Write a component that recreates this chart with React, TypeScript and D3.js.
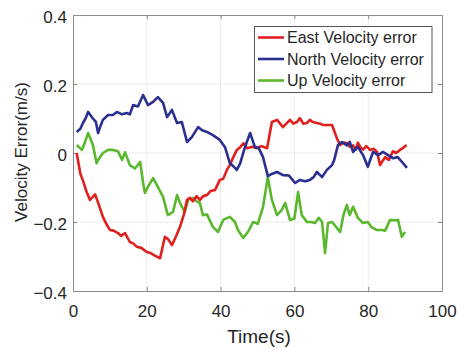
import * as d3 from "d3";
import { useEffect, useRef } from "react";

// [time (s), velocity error (m/s)]
const eastErr: [number, number][] = [
  [1, 0], [2, -0.06], [2.7, -0.08], [3.6, -0.11], [4.6, -0.136], [6, -0.12], [7, -0.15],
  [8.1, -0.185], [9, -0.205], [10, -0.223], [11, -0.225], [12.2, -0.232], [13, -0.24],
  [14.1, -0.232], [15.4, -0.258], [16.3, -0.262], [17.3, -0.272], [18.5, -0.275], [20, -0.287],
  [21, -0.29], [22.3, -0.298], [23.6, -0.305], [24.9, -0.243], [25.8, -0.25], [26.8, -0.267],
  [28, -0.24], [29, -0.214], [30, -0.18], [30.9, -0.136], [31.7, -0.13], [32.5, -0.14],
  [33.5, -0.125], [34.4, -0.136], [35.3, -0.125], [36.3, -0.122], [37.3, -0.11], [38.5, -0.107],
  [39.8, -0.078], [40.7, -0.075], [41.7, -0.049], [42.5, -0.035], [43.1, -0.02], [44.4, 0.009],
  [45.3, 0.017], [46.2, 0.028], [47.2, 0.014], [48.5, 0.018], [49.9, 0.014], [51, 0.02],
  [52.6, 0.014], [53.9, 0.09], [55.3, 0.096], [56.9, 0.075], [57.8, 0.085], [58.8, 0.096],
  [59.7, 0.085], [60.7, 0.09], [61.5, 0.101], [62.4, 0.085], [63.4, 0.087], [64.2, 0.096],
  [65, 0.09], [66.1, 0.087], [67, 0.085], [67.8, 0.081], [69, 0.081], [70.2, 0.081],
  [71.5, 0.043], [72.4, 0.023], [73.3, 0.03], [74.2, 0.029], [75, 0.018], [75.9, 0.022],
  [76.6, 0.01], [77.2, 0.03], [78, 0.015], [78.6, 0.01], [79.5, 0.02], [80.5, 0.009],
  [81.5, 0.012], [82.4, 0.003], [83.2, -0.035], [84.6, -0.012], [85.6, -0.02], [86.7, 0.005],
  [87.6, 0], [88.6, 0.009], [89.5, 0.015], [90.4, 0.023],
];

const northErr: [number, number][] = [
  [1, 0.061], [2, 0.07], [2.7, 0.087], [3.4, 0.1], [4.1, 0.119], [5.4, 0.1], [6.2, 0.09],
  [6.8, 0.058], [7.5, 0.08], [8.1, 0.096], [9.5, 0.11], [10.8, 0.11], [11.9, 0.119],
  [13.3, 0.112], [14.6, 0.116], [15.4, 0.112], [16.3, 0.139], [17.6, 0.135], [19, 0.168],
  [20.3, 0.139], [21.7, 0.148], [23, 0.162], [24.4, 0.145], [25.5, 0.104], [26.8, 0.125],
  [28.2, 0.087], [29.5, 0.09], [30.9, 0.032], [32.2, 0.046], [33.9, 0.075], [35, 0.066],
  [36.3, 0.061], [37.9, 0.052], [39.8, 0.038], [41.2, 0.017], [42.5, -0.029], [43.9, -0.043],
  [44.4, -0.049], [45.3, -0.03], [46.6, 0.017], [48, 0.058], [49.3, 0.017], [50.3, 0.015],
  [51.5, -0.012], [52.8, -0.067], [54, -0.06], [55.3, -0.055], [56.9, -0.064], [58.5, -0.065],
  [60.2, -0.087], [61.5, -0.078], [62.9, -0.082], [64.2, -0.078], [65.2, -0.07], [66.1, -0.055],
  [67.5, -0.07], [68.8, -0.049], [70.2, -0.035], [70.8, -0.02], [71.8, 0.023], [72.9, 0.032],
  [74.2, 0.022], [75, 0.032], [75.9, 0.003], [77.2, 0.018], [78.6, -0.006], [79.9, -0.04],
  [81.3, 0.003], [82.7, -0.006], [84, 0.003], [85.4, -0.006], [86.7, -0.015], [88, -0.012],
  [89.4, -0.029], [90.5, -0.043],
];

const upErr: [number, number][] = [
  [1, 0.023], [2.4, 0.009], [3.2, 0.03], [4.1, 0.058], [5.4, 0.023], [6.4, -0.03], [6.8, -0.02],
  [8.1, 0], [9.5, 0.009], [10.8, 0.009], [12.2, 0.005], [13.3, -0.02], [14.1, 0.002],
  [15.4, -0.035], [16.8, -0.045], [18.2, -0.026], [19, -0.087], [19.5, -0.116], [20.3, -0.098],
  [21.7, -0.073], [23, -0.098], [24.4, -0.127], [25.7, -0.18], [27.1, -0.171], [28.2, -0.122],
  [29, -0.145], [30.3, -0.171], [31.2, -0.136], [32.5, -0.13], [33.5, -0.14], [34.4, -0.145],
  [35.2, -0.18], [36.3, -0.178], [37.9, -0.214], [39.3, -0.229], [40.7, -0.194], [42.5, -0.185],
  [43.9, -0.2], [44.7, -0.223], [46.1, -0.246], [47.4, -0.229], [48.8, -0.2], [50.1, -0.205],
  [51.5, -0.156], [52.8, -0.07], [53.9, -0.136], [55.3, -0.18], [56.6, -0.165], [57.5, -0.145],
  [58.8, -0.194], [60, -0.19], [61, -0.113], [62, -0.18], [63.4, -0.2], [64.4, -0.2],
  [65.6, -0.203], [66.6, -0.188], [67.5, -0.2], [68.3, -0.29], [69.1, -0.203], [70.2, -0.2],
  [71.5, -0.217], [72.4, -0.229], [73.3, -0.18], [74.2, -0.151], [75, -0.18], [75.9, -0.156],
  [77.2, -0.188], [78.6, -0.203], [79.9, -0.2], [80.8, -0.214], [82.2, -0.223], [83.6, -0.223],
  [84.6, -0.225], [85.9, -0.194], [87.3, -0.195], [88.1, -0.194], [89.1, -0.243], [90, -0.229],
];

const seriesNames = ["East Velocity error", "North Velocity error", "Up Velocity error"];
const seriesColors = ["#e0201f", "#2b2f8f", "#5ab82e"];
const xTicks = [0, 20, 40, 60, 80, 100];
const yTicks = [-0.4, -0.2, 0, 0.2, 0.4];

function App() {
  const w = 458;
  const h = 348;
  const left = 73;
  const right = 442;
  const top = 15;
  const bottom = 291;
  const svgRef = useRef<SVGSVGElement>(null);

  useEffect(() => {
    const svg = d3.select(svgRef.current);
    svg.selectAll("*").remove();
    const font = "'Liberation Sans', Arial, sans-serif";
    const ink = "#262626";

    const xScale = d3.scaleLinear().domain([0, 100]).range([left, right]);
    const yScale = d3.scaleLinear().domain([-0.4, 0.4]).range([bottom, top]);

    // faint grid
    const grid = svg.append("g");
    grid.selectAll(".gx")
      .data(xTicks.slice(1, -1))
      .join("line")
      .attr("x1", (d) => xScale(d)).attr("x2", (d) => xScale(d))
      .attr("y1", top).attr("y2", bottom)
      .attr("stroke", "#ececec").attr("stroke-width", 1);
    grid.selectAll(".gy")
      .data(yTicks.slice(1, -1))
      .join("line")
      .attr("y1", (d) => yScale(d)).attr("y2", (d) => yScale(d))
      .attr("x1", left).attr("x2", right)
      .attr("stroke", "#ececec").attr("stroke-width", 1);

    // axes with inward ticks, boxed
    const xAxis = d3.axisBottom(xScale).tickValues(xTicks).tickSizeInner(-4).tickSizeOuter(0).tickPadding(14);
    const gx = svg.append("g").attr("transform", `translate(0,${bottom})`).call(xAxis);
    const yAxis = d3.axisLeft(yScale).tickValues(yTicks).tickSizeInner(-4).tickSizeOuter(0).tickPadding(6)
      .tickFormat((d) => (d === 0 ? "0" : d3.format(".1f")(d as number)));
    const gy = svg.append("g").attr("transform", `translate(${left},0)`).call(yAxis);
    const xTop = d3.axisTop(xScale).tickValues(xTicks).tickSizeInner(-4).tickSizeOuter(0).tickFormat(() => "");
    const gxt = svg.append("g").attr("transform", `translate(0,${top})`).call(xTop);
    const yRight = d3.axisRight(yScale).tickValues(yTicks).tickSizeInner(-4).tickSizeOuter(0).tickFormat(() => "");
    const gyr = svg.append("g").attr("transform", `translate(${right},0)`).call(yRight);
    [gx, gy, gxt, gyr].forEach((g) => {
      g.selectAll("path").attr("stroke", "#8a8a8a");
      g.selectAll("line").attr("stroke", "#8a8a8a");
      g.selectAll("text").attr("fill", ink).style("font-family", font).style("font-size", "17px");
    });
    gy.selectAll("text").attr("dy", "0.42em");

    // series
    const line = d3.line<[number, number]>()
      .x((d) => xScale(d[0]))
      .y((d) => yScale(d[1]));
    [upErr, eastErr, northErr].forEach((data) => {
      const i = data === eastErr ? 0 : data === northErr ? 1 : 2;
      svg.append("path")
        .datum(data)
        .attr("d", line)
        .attr("fill", "none")
        .attr("stroke", seriesColors[i])
        .attr("stroke-width", 2.6)
        .attr("stroke-linejoin", "round");
    });

    // axis titles
    svg.append("text")
      .attr("x", 259).attr("y", 343)
      .attr("text-anchor", "middle")
      .attr("fill", ink).style("font-family", font).style("font-size", "19px")
      .text("Time(s)");
    svg.append("text")
      .attr("transform", `translate(27,152) rotate(-90)`)
      .attr("text-anchor", "middle")
      .attr("fill", ink).style("font-family", font).style("font-size", "17px")
      .text("Velocity Error(m/s)");

    // legend
    const lg = svg.append("g");
    lg.append("rect")
      .attr("x", 254.5).attr("y", 26.5).attr("width", 177.5).attr("height", 66)
      .attr("fill", "white").attr("stroke", "#555").attr("stroke-width", 1);
    seriesNames.forEach((name, i) => {
      const y = 37.5 + i * 21.5;
      lg.append("line")
        .attr("x1", 258).attr("x2", 284).attr("y1", y).attr("y2", y)
        .attr("stroke", seriesColors[i]).attr("stroke-width", 2.6);
      lg.append("text")
        .attr("x", 287).attr("y", y).attr("dy", "0.36em")
        .attr("fill", ink).style("font-family", font).style("font-size", "16px")
        .text(name);
    });
  }, []);

  return (
    <svg ref={svgRef} width={w} height={h} style={{ position: "absolute", left: 0, top: 0, background: "white" }} />
  );
}

export default App;
